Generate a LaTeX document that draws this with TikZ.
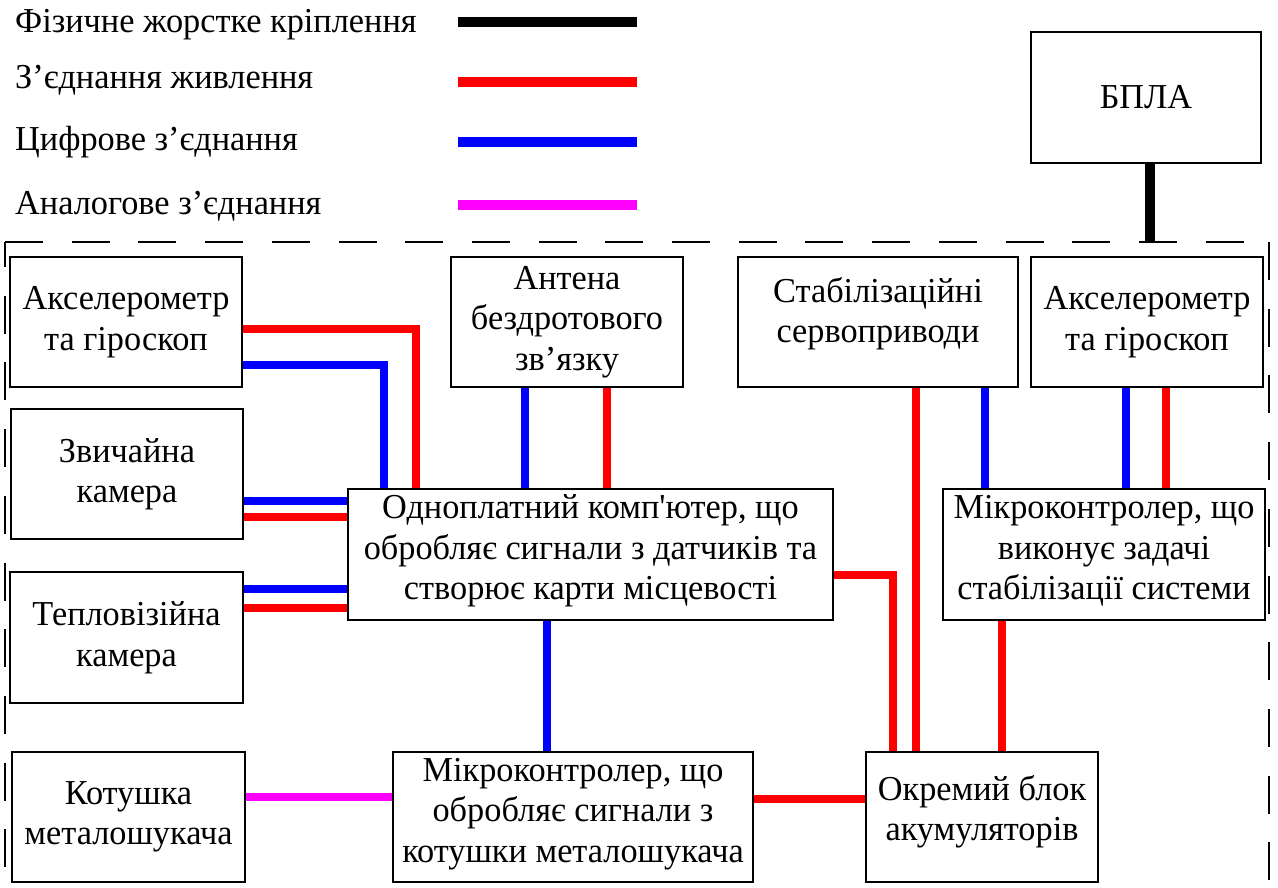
\documentclass[tikz,border=0pt]{standalone}
\usepackage{fontspec}
\newfontfamily\lfont[FakeStretch=0.98]{Liberation Serif}
\definecolor{pinkline}{RGB}{255,0,255}
\definecolor{redline}{RGB}{255,0,0}
\definecolor{blueline}{RGB}{0,0,255}
\begin{document}
\begin{tikzpicture}[x=1pt,y=-1pt]
\tikzset{
  box/.style={draw=black, line width=1.8pt, rectangle, inner sep=0pt, align=center,
    font=\lfont\fontsize{35}{40.5}\selectfont},
  pw/.style={draw=redline, line width=8pt},
  dg/.style={draw=blueline, line width=8pt},
  an/.style={draw=pinkline, line width=8pt},
  mech/.style={draw=black, line width=10pt},
  framedash/.style={draw=black, line width=2.5pt, dash pattern=on 38pt off 28.7pt},
  legtext/.style={anchor=base west, inner sep=0pt, font=\lfont\fontsize{35}{40}\selectfont},
  legline/.style={line width=10pt}
}
\useasboundingbox (0,0) rectangle (1278,887);
\fill[white] (0,0) rectangle (1278,887);

% legend
\node[legtext] (t1) at (15,32) {Фізичне жорстке кріплення};
\node[legtext] (t2) at (15,88) {З’єднання живлення};
\node[legtext] (t3) at (15,150) {Цифрове з’єднання};
\node[legtext] (t4) at (15,214) {Аналогове з’єднання};
\coordinate (l1a) at (458,22);  \coordinate (l1b) at (637,22);
\coordinate (l2a) at (458,82);  \coordinate (l2b) at (637,82);
\coordinate (l3a) at (458,142); \coordinate (l3b) at (637,142);
\coordinate (l4a) at (458,205); \coordinate (l4b) at (637,205);
\draw[legline, black] (l1a) -- (l1b);
\draw[legline, redline] (l2a) -- (l2b);
\draw[legline, blueline] (l3a) -- (l3b);
\draw[legline, pinkline] (l4a) -- (l4b);

% dashed frame
\coordinate (fa) at (5,242);
\coordinate (fb) at (1269,242);
\coordinate (fc) at (5,900);
\coordinate (fd) at (1269,900);
\draw[framedash] (fa) -- (fb);
\draw[framedash, dash phase=13pt] (fa) -- (fc);
\draw[framedash] (fb) -- (fd);

% boxes
\node[box, minimum width=230pt, minimum height=131pt] (bpla) at (1146,97.5) {БПЛА};
\node[box, minimum width=232pt, minimum height=130pt] (acc1) at (126,322) {Акселерометр\\та гіроскоп};
\node[box, minimum width=232pt, minimum height=130pt] (cam) at (127,474) {Звичайна\\камера};
\node[box, minimum width=233pt, minimum height=131pt] (therm) at (126.5,637.5) {Тепловізійна\\камера};
\node[box, minimum width=233pt, minimum height=130pt] (coil) at (128.5,817) {Котушка\\металошукача};
\node[box, minimum width=232pt, minimum height=130pt] (ant) at (567,322) {Антена\\бездротового\\зв’язку};
\node[box, minimum width=280pt, minimum height=130pt, text depth=24pt] (servo) at (878,322) {Стабілізаційні\\сервоприводи};
\node[box, minimum width=232pt, minimum height=130pt] (acc2) at (1147,322) {Акселерометр\\та гіроскоп};
\node[box, minimum width=485pt, minimum height=131pt, text depth=14pt] (cpu) at (590.5,554.5) {Одноплатний комп'ютер, що\\обробляє сигнали з датчиків та\\створює карти місцевості};
\node[box, minimum width=322pt, minimum height=131pt, text depth=14pt] (mcus) at (1104,554.5) {Мікроконтролер, що\\виконує задачі\\стабілізації системи};
\node[box, minimum width=360pt, minimum height=130pt, text depth=14pt] (mcum) at (573,817) {Мікроконтролер, що\\обробляє сигнали з\\котушки металошукача};
\node[box, minimum width=232pt, minimum height=130pt, text depth=18pt] (bat) at (982,817) {Окремий блок\\акумуляторів};

% mechanical link
\coordinate (ftop) at (1150,242);
\draw[mech] (bpla.south -| ftop) -- (ftop);

% connectors
\draw[pw] (acc1.east |- 0,329) -| (cpu.north -| 416,0);
\draw[dg] (acc1.east |- 0,365) -| (cpu.north -| 384,0);
\draw[dg] (cam.east |- 0,501) -- (cpu.west |- 0,501);
\draw[pw] (cam.east |- 0,517) -- (cpu.west |- 0,517);
\draw[dg] (therm.east |- 0,589) -- (cpu.west |- 0,589);
\draw[pw] (therm.east |- 0,608) -- (cpu.west |- 0,608);
\draw[dg] (ant.south -| 525,0) -- (cpu.north -| 525,0);
\draw[pw] (ant.south -| 607,0) -- (cpu.north -| 607,0);
\draw[dg] (cpu.south -| 547,0) -- (mcum.north -| 547,0);
\draw[pw] (cpu.east |- 0,575) -| (bat.north -| 893,0);
\draw[pw] (servo.south -| 916,0) -- (bat.north -| 916,0);
\draw[dg] (servo.south -| 985,0) -- (mcus.north -| 985,0);
\draw[dg] (acc2.south -| 1126,0) -- (mcus.north -| 1126,0);
\draw[pw] (acc2.south -| 1166,0) -- (mcus.north -| 1166,0);
\draw[pw] (mcus.south -| 1002,0) -- (bat.north -| 1002,0);
\draw[an] (coil.east |- 0,797) -- (mcum.west |- 0,797);
\draw[pw] (mcum.east |- 0,799) -- (bat.west |- 0,799);
\end{tikzpicture}
\end{document}
